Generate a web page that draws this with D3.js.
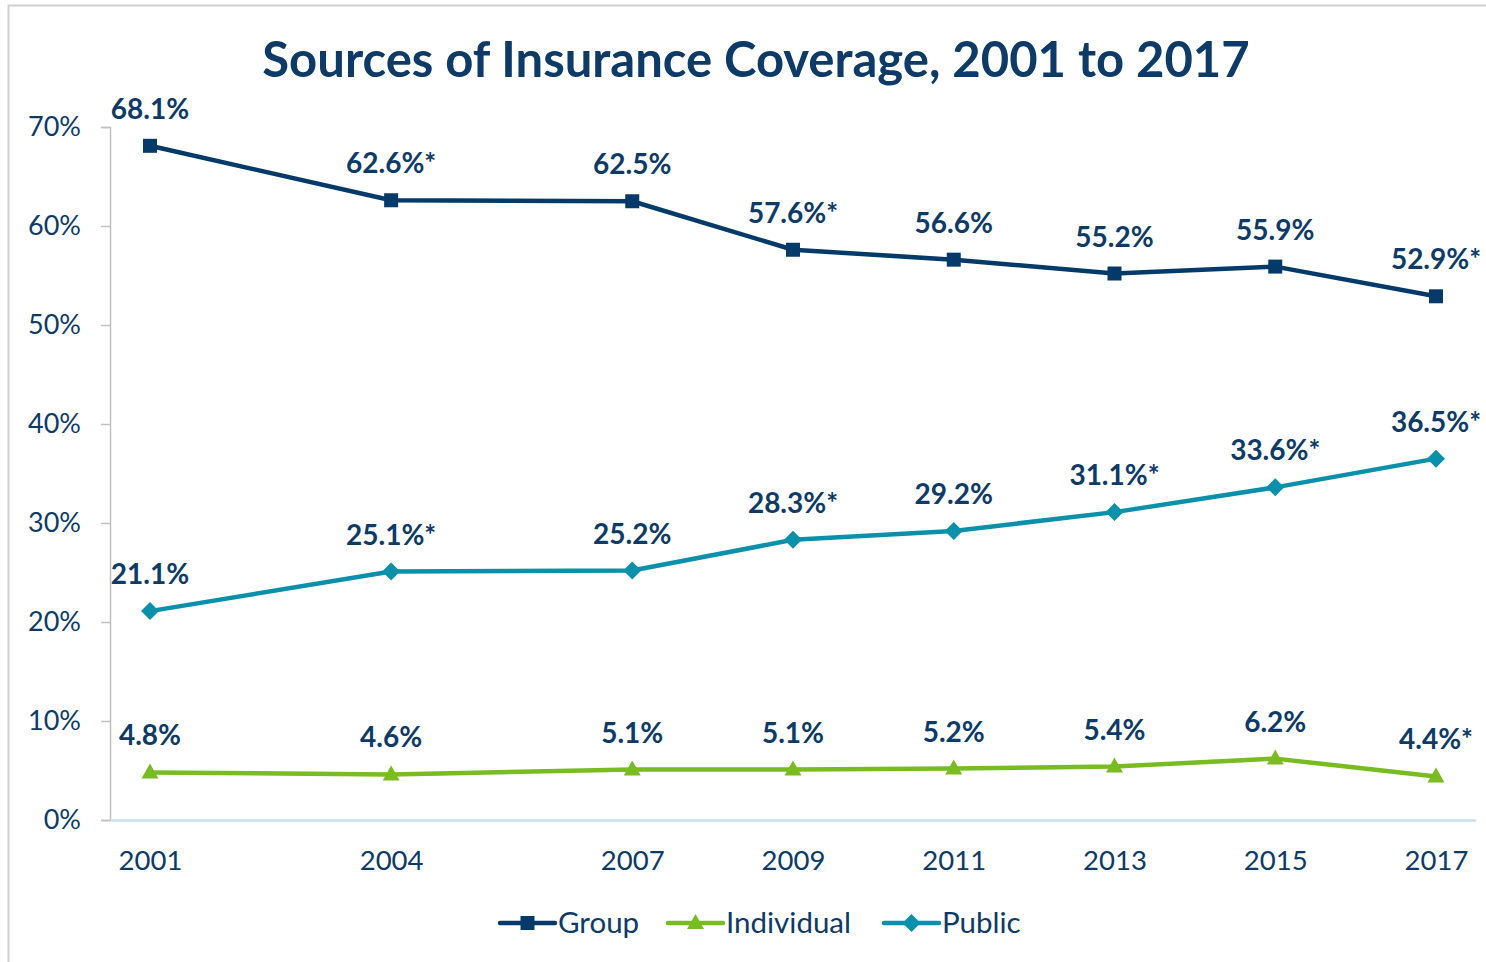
<!DOCTYPE html>
<html><head><meta charset="utf-8">
<script src="https://cdn.jsdelivr.net/npm/d3@7"></script>
<style>html,body{margin:0;padding:0;background:#fff;}svg{display:block;font-family:Lato,"Open Sans",sans-serif;}</style>
</head><body>
<svg id="chart" width="1486" height="962"></svg>
<script>
const years = [2001, 2004, 2007, 2009, 2011, 2013, 2015, 2017];
const groupValues = [68.1, 62.6, 62.5, 57.6, 56.6, 55.2, 55.9, 52.9];
const groupLabels = ["68.1%", "62.6%*", "62.5%", "57.6%*", "56.6%", "55.2%", "55.9%", "52.9%*"];
const individualValues = [4.8, 4.6, 5.1, 5.1, 5.2, 5.4, 6.2, 4.4];
const individualLabels = ["4.8%", "4.6%", "5.1%", "5.1%", "5.2%", "5.4%", "6.2%", "4.4%*"];
const publicValues = [21.1, 25.1, 25.2, 28.3, 29.2, 31.1, 33.6, 36.5];
const publicLabels = ["21.1%", "25.1%*", "25.2%", "28.3%*", "29.2%", "31.1%*", "33.6%*", "36.5%*"];
const yTicks = [0, 10, 20, 30, 40, 50, 60, 70];
const seriesNames = ["Group", "Individual", "Public"];
const seriesColors = ["#033a6a", "#78bc22", "#0a90ab"];
const seriesSymbols = ["square", "triangle", "diamond"];

const textColor = "#0d3a66";
const svg = d3.select("#chart");

// border
svg.append("path").attr("d", "M8.5,962 L8.5,5.5 L1486,5.5").attr("fill", "none").attr("stroke", "#d0d0d0").attr("stroke-width", 2);

const x = d3.scaleLinear().domain([2001, 2017]).range([150, 1436]);
const y = d3.scaleLinear().domain([0, 70]).range([820, 127]);

// title
svg.append("text").attr("x", 756).attr("y", 77).attr("text-anchor", "middle")
  .attr("font-size", 49).attr("font-weight", "bold").attr("fill", textColor)
  .text("Sources of Insurance Coverage, 2001 to 2017");

// y axis
const yAxis = d3.axisLeft(y).tickValues(yTicks).tickSize(9).tickPadding(20).tickFormat(d => d + "%");
const yg = svg.append("g").attr("transform", "translate(110,0)").call(yAxis);
yg.select(".domain").attr("stroke", "#c0c0c0").attr("stroke-width", 1.5);
yg.selectAll(".tick line").attr("stroke", "#c0c0c0").attr("stroke-width", 1.5);
yg.selectAll(".tick text").attr("font-size", 27).attr("fill", textColor).attr("font-family", "Lato, 'Open Sans', sans-serif");

// x axis
const xAxis = d3.axisBottom(x).tickValues(years).tickSize(0).tickPadding(30).tickFormat(d3.format("d"));
const xg = svg.append("g").attr("transform", "translate(0,820)").call(xAxis);
xg.select(".domain").attr("d", "M110,0.5H1476").attr("stroke", "#c5dff5").attr("stroke-width", 2.5);
xg.selectAll(".tick text").attr("font-size", 27.5).attr("fill", textColor).attr("font-family", "Lato, 'Open Sans', sans-serif");

const allValues = [groupValues, individualValues, publicValues];
const allLabels = [groupLabels, individualLabels, publicLabels];

function markerPath(sym, cx, cy) {
  if (sym === "square") { const s = 7; return `M${cx-s},${cy-s}H${cx+s}V${cy+s}H${cx-s}Z`; }
  if (sym === "triangle") { return `M${cx},${cy-9}L${cx+8.5},${cy+6}L${cx-8.5},${cy+6}Z`; }
  const d = 9; return `M${cx},${cy-d}L${cx+d},${cy}L${cx},${cy+d}L${cx-d},${cy}Z`;
}

const line = d3.line().x((d, i) => x(years[i])).y(d => y(d));

allValues.forEach((vals, si) => {
  const g = svg.append("g");
  g.append("path").attr("d", line(vals)).attr("fill", "none")
    .attr("stroke", seriesColors[si]).attr("stroke-width", 4.5).attr("stroke-linejoin", "round");
  g.selectAll("path.m").data(vals).join("path").attr("class", "m")
    .attr("d", (d, i) => markerPath(seriesSymbols[si], x(years[i]), y(d)))
    .attr("fill", seriesColors[si]);
  g.selectAll("text").data(vals).join("text")
    .attr("x", (d, i) => x(years[i]))
    .attr("y", d => y(d) - 27)
    .attr("text-anchor", "middle").attr("font-size", 28).attr("font-weight", "bold")
    .attr("fill", textColor)
    .text((d, i) => allLabels[si][i]);
});

// legend
const legendX = [500, 668, 884];
const leg = svg.append("g");
seriesNames.forEach((name, i) => {
  const lx = legendX[i], ly = 923;
  leg.append("line").attr("x1", lx).attr("x2", lx + 55).attr("y1", ly).attr("y2", ly)
    .attr("stroke", seriesColors[i]).attr("stroke-width", 4.5).attr("stroke-linecap", "round");
  leg.append("path").attr("d", markerPath(seriesSymbols[i], lx + 27.5, ly)).attr("fill", seriesColors[i]);
  leg.append("text").attr("x", lx + 58).attr("y", ly + 10).attr("font-size", 29.5).attr("fill", textColor).text(name);
});
</script>
</body></html>
